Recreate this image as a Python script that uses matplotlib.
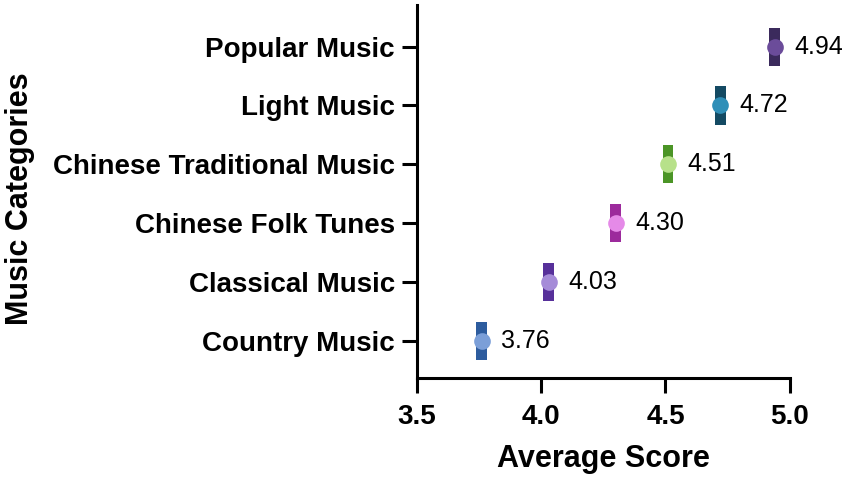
import matplotlib.pyplot as plt
import numpy as np

categories = ["Country Music", "Classical Music", "Chinese Folk Tunes",
              "Chinese Traditional Music", "Light Music", "Popular Music"]
scores = [3.76, 4.03, 4.30, 4.51, 4.72, 4.94]
errors = [0.022, 0.022, 0.022, 0.022, 0.022, 0.022]
bar_colors = ["#2d5c9e", "#57309a", "#9c2a9c", "#4b9526", "#144a63", "#3b2a5c"]
dot_colors = ["#7b9fd8", "#a58bd8", "#e58ae8", "#b7e18a", "#2f8fb8", "#6b4c9a"]

plt.rcParams['font.family'] = ['Liberation Sans', 'DejaVu Sans']

fig = plt.figure(figsize=(8.51, 4.84), dpi=100)
ax = fig.add_axes([0.490, 0.219, 0.438, 0.771])

y = np.arange(len(categories))
for i in range(len(categories)):
    ax.barh(y[i], 2 * errors[i], left=scores[i] - errors[i], height=0.65,
            color=bar_colors[i], zorder=2)
    ax.plot(scores[i], y[i], 'o', ms=12, color=dot_colors[i], mec='none', zorder=3)
    ax.annotate(f"{scores[i]:.2f}", (scores[i], y[i]), xytext=(14, 0),
                textcoords='offset points', va='center', ha='left', fontsize=18)

ax.set_xlim(3.5, 5.0)
ax.set_ylim(-0.63, 5.71)
ax.set_xticks([3.5, 4.0, 4.5, 5.0])
ax.set_xticklabels(["3.5", "4.0", "4.5", "5.0"])
ax.set_yticks(y)
ax.set_yticklabels(categories)

for s in ['top', 'right']:
    ax.spines[s].set_visible(False)
for s in ['left', 'bottom']:
    ax.spines[s].set_linewidth(2.2)

ax.tick_params(axis='both', width=2.2, length=11, labelsize=20)
ax.tick_params(axis='y', pad=5)
ax.tick_params(axis='x', pad=8)
for lab in ax.get_xticklabels() + ax.get_yticklabels():
    lab.set_fontweight('bold')

ax.set_xlabel("Average Score", fontsize=22, fontweight='bold', labelpad=10)
ax.set_ylabel("Music Categories", fontsize=22, fontweight='bold')
ax.yaxis.set_label_coords(-1.025, 0.48)

fig.savefig("out.png", dpi=100)
